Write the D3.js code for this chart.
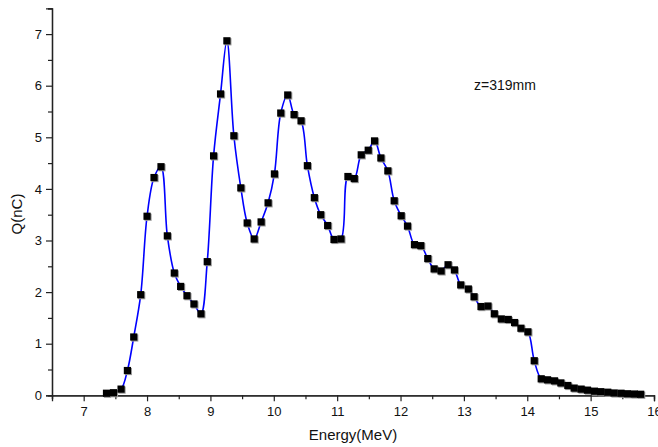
<!DOCTYPE html>
<html>
<head>
<meta charset="utf-8">
<script src="https://cdn.jsdelivr.net/npm/d3@7"></script>
<style>
  html, body { margin: 0; padding: 0; background: #fff; }
  svg { display: block; font-family: "Liberation Sans", Arial, sans-serif; }
</style>
</head>
<body>
<svg id="chart" width="658" height="447"></svg>
<script>
// Energy (MeV)
const energy = [7.36, 7.47, 7.59, 7.69, 7.79, 7.90, 8.00, 8.11, 8.22, 8.32,
  8.43, 8.53, 8.63, 8.74, 8.85, 8.95, 9.05, 9.16, 9.26, 9.37,
  9.48, 9.58, 9.69, 9.80, 9.91, 10.01, 10.11, 10.22, 10.32, 10.43,
  10.53, 10.64, 10.74, 10.85, 10.95, 11.06, 11.17, 11.27, 11.38, 11.49,
  11.59, 11.69, 11.80, 11.90, 12.01, 12.11, 12.22, 12.32, 12.43, 12.53,
  12.64, 12.75, 12.85, 12.95, 13.07, 13.16, 13.27, 13.38, 13.48, 13.59,
  13.70, 13.80, 13.90, 14.01, 14.11, 14.22, 14.32, 14.43, 14.53, 14.64,
  14.74, 14.85, 14.95, 15.06, 15.16, 15.27, 15.37, 15.48, 15.58, 15.69, 15.79];
// Charge Q (nC)
const charge = [0.04, 0.05, 0.12, 0.48, 1.13, 1.95, 3.47, 4.22, 4.43, 3.09,
  2.37, 2.11, 1.93, 1.77, 1.58, 2.59, 4.64, 5.84, 6.87, 5.03,
  4.02, 3.34, 3.03, 3.36, 3.73, 4.29, 5.47, 5.82, 5.44, 5.32,
  4.45, 3.83, 3.50, 3.29, 3.02, 3.03, 4.24, 4.20, 4.66, 4.75,
  4.93, 4.60, 4.35, 3.77, 3.48, 3.28, 2.92, 2.90, 2.65, 2.45,
  2.41, 2.53, 2.43, 2.14, 2.06, 1.91, 1.72, 1.73, 1.58, 1.48,
  1.47, 1.41, 1.30, 1.23, 0.67, 0.32, 0.30, 0.28, 0.24, 0.19,
  0.14, 0.12, 0.10, 0.08, 0.07, 0.06, 0.045, 0.04, 0.03, 0.025, 0.02];
const xTicks = [7, 8, 9, 10, 11, 12, 13, 14, 15, 16];
const yTicks = [0, 1, 2, 3, 4, 5, 6, 7];
const xMinor = [6.5, 7.5, 8.5, 9.5, 10.5, 11.5, 12.5, 13.5, 14.5, 15.5];
const yMinor = [0.5, 1.5, 2.5, 3.5, 4.5, 5.5, 6.5, 7.5];
const annotation = "z=319mm";
const xTitle = "Energy(MeV)";
const yTitle = "Q(nC)";

const svg = d3.select("#chart");
const x = d3.scaleLinear().domain([6.5, 16]).range([52, 654]);
const y = d3.scaleLinear().domain([0, 7.5]).range([395.3, 8.3]);
const axisColor = "#222";

// X axis
const gx = svg.append("g").attr("transform", `translate(0,${y(0)})`);
gx.call(d3.axisBottom(x).tickValues(xMinor).tickSize(4).tickFormat(""));
gx.call(g => g.append("g").call(d3.axisBottom(x).tickValues(xTicks).tickSize(6).tickPadding(5).tickFormat(d3.format("d"))));
// Y axis
const gy = svg.append("g").attr("transform", `translate(${x(6.5)},0)`);
gy.call(d3.axisLeft(y).tickValues(yMinor).tickSize(4).tickFormat(""));
gy.call(g => g.append("g").call(d3.axisLeft(y).tickValues(yTicks).tickSize(6).tickPadding(4).tickFormat(d3.format("d"))));

svg.selectAll(".domain").attr("stroke", axisColor).attr("stroke-width", 1.3);
svg.selectAll(".tick line").attr("stroke", axisColor).attr("stroke-width", 1.2);
svg.selectAll(".tick text").attr("fill", "#111").attr("font-size", 13)
  .attr("font-family", "Liberation Sans, Arial, sans-serif");

// Line
const pts = energy.map((e, i) => [e, charge[i]]);
const line = d3.line().x(d => x(d[0])).y(d => y(d[1])).curve(d3.curveCatmullRom.alpha(0.5));
svg.append("path").datum(pts).attr("d", line)
  .attr("fill", "none").attr("stroke", "#0000ff").attr("stroke-width", 1.6);

// Markers (with faint shadow)
const s = 7.2;
svg.append("g").selectAll("rect.sh").data(pts).join("rect")
  .attr("x", d => x(d[0]) - s / 2 + 1).attr("y", d => y(d[1]) - s / 2 + 1)
  .attr("width", s).attr("height", s).attr("fill", "#9a9a9a");
svg.append("g").selectAll("rect.m").data(pts).join("rect")
  .attr("x", d => x(d[0]) - s / 2).attr("y", d => y(d[1]) - s / 2)
  .attr("width", s).attr("height", s).attr("fill", "#000");

// Titles
svg.append("text").attr("x", 353).attr("y", 440).attr("text-anchor", "middle")
  .attr("font-size", 15).attr("fill", "#111").text(xTitle);
svg.append("text").attr("transform", "translate(22,214) rotate(-90)").attr("text-anchor", "middle")
  .attr("font-size", 15).attr("fill", "#111").text(yTitle);
svg.append("text").attr("x", 474).attr("y", 90).attr("font-size", 14)
  .attr("fill", "#111").text(annotation);
</script>
</body>
</html>
